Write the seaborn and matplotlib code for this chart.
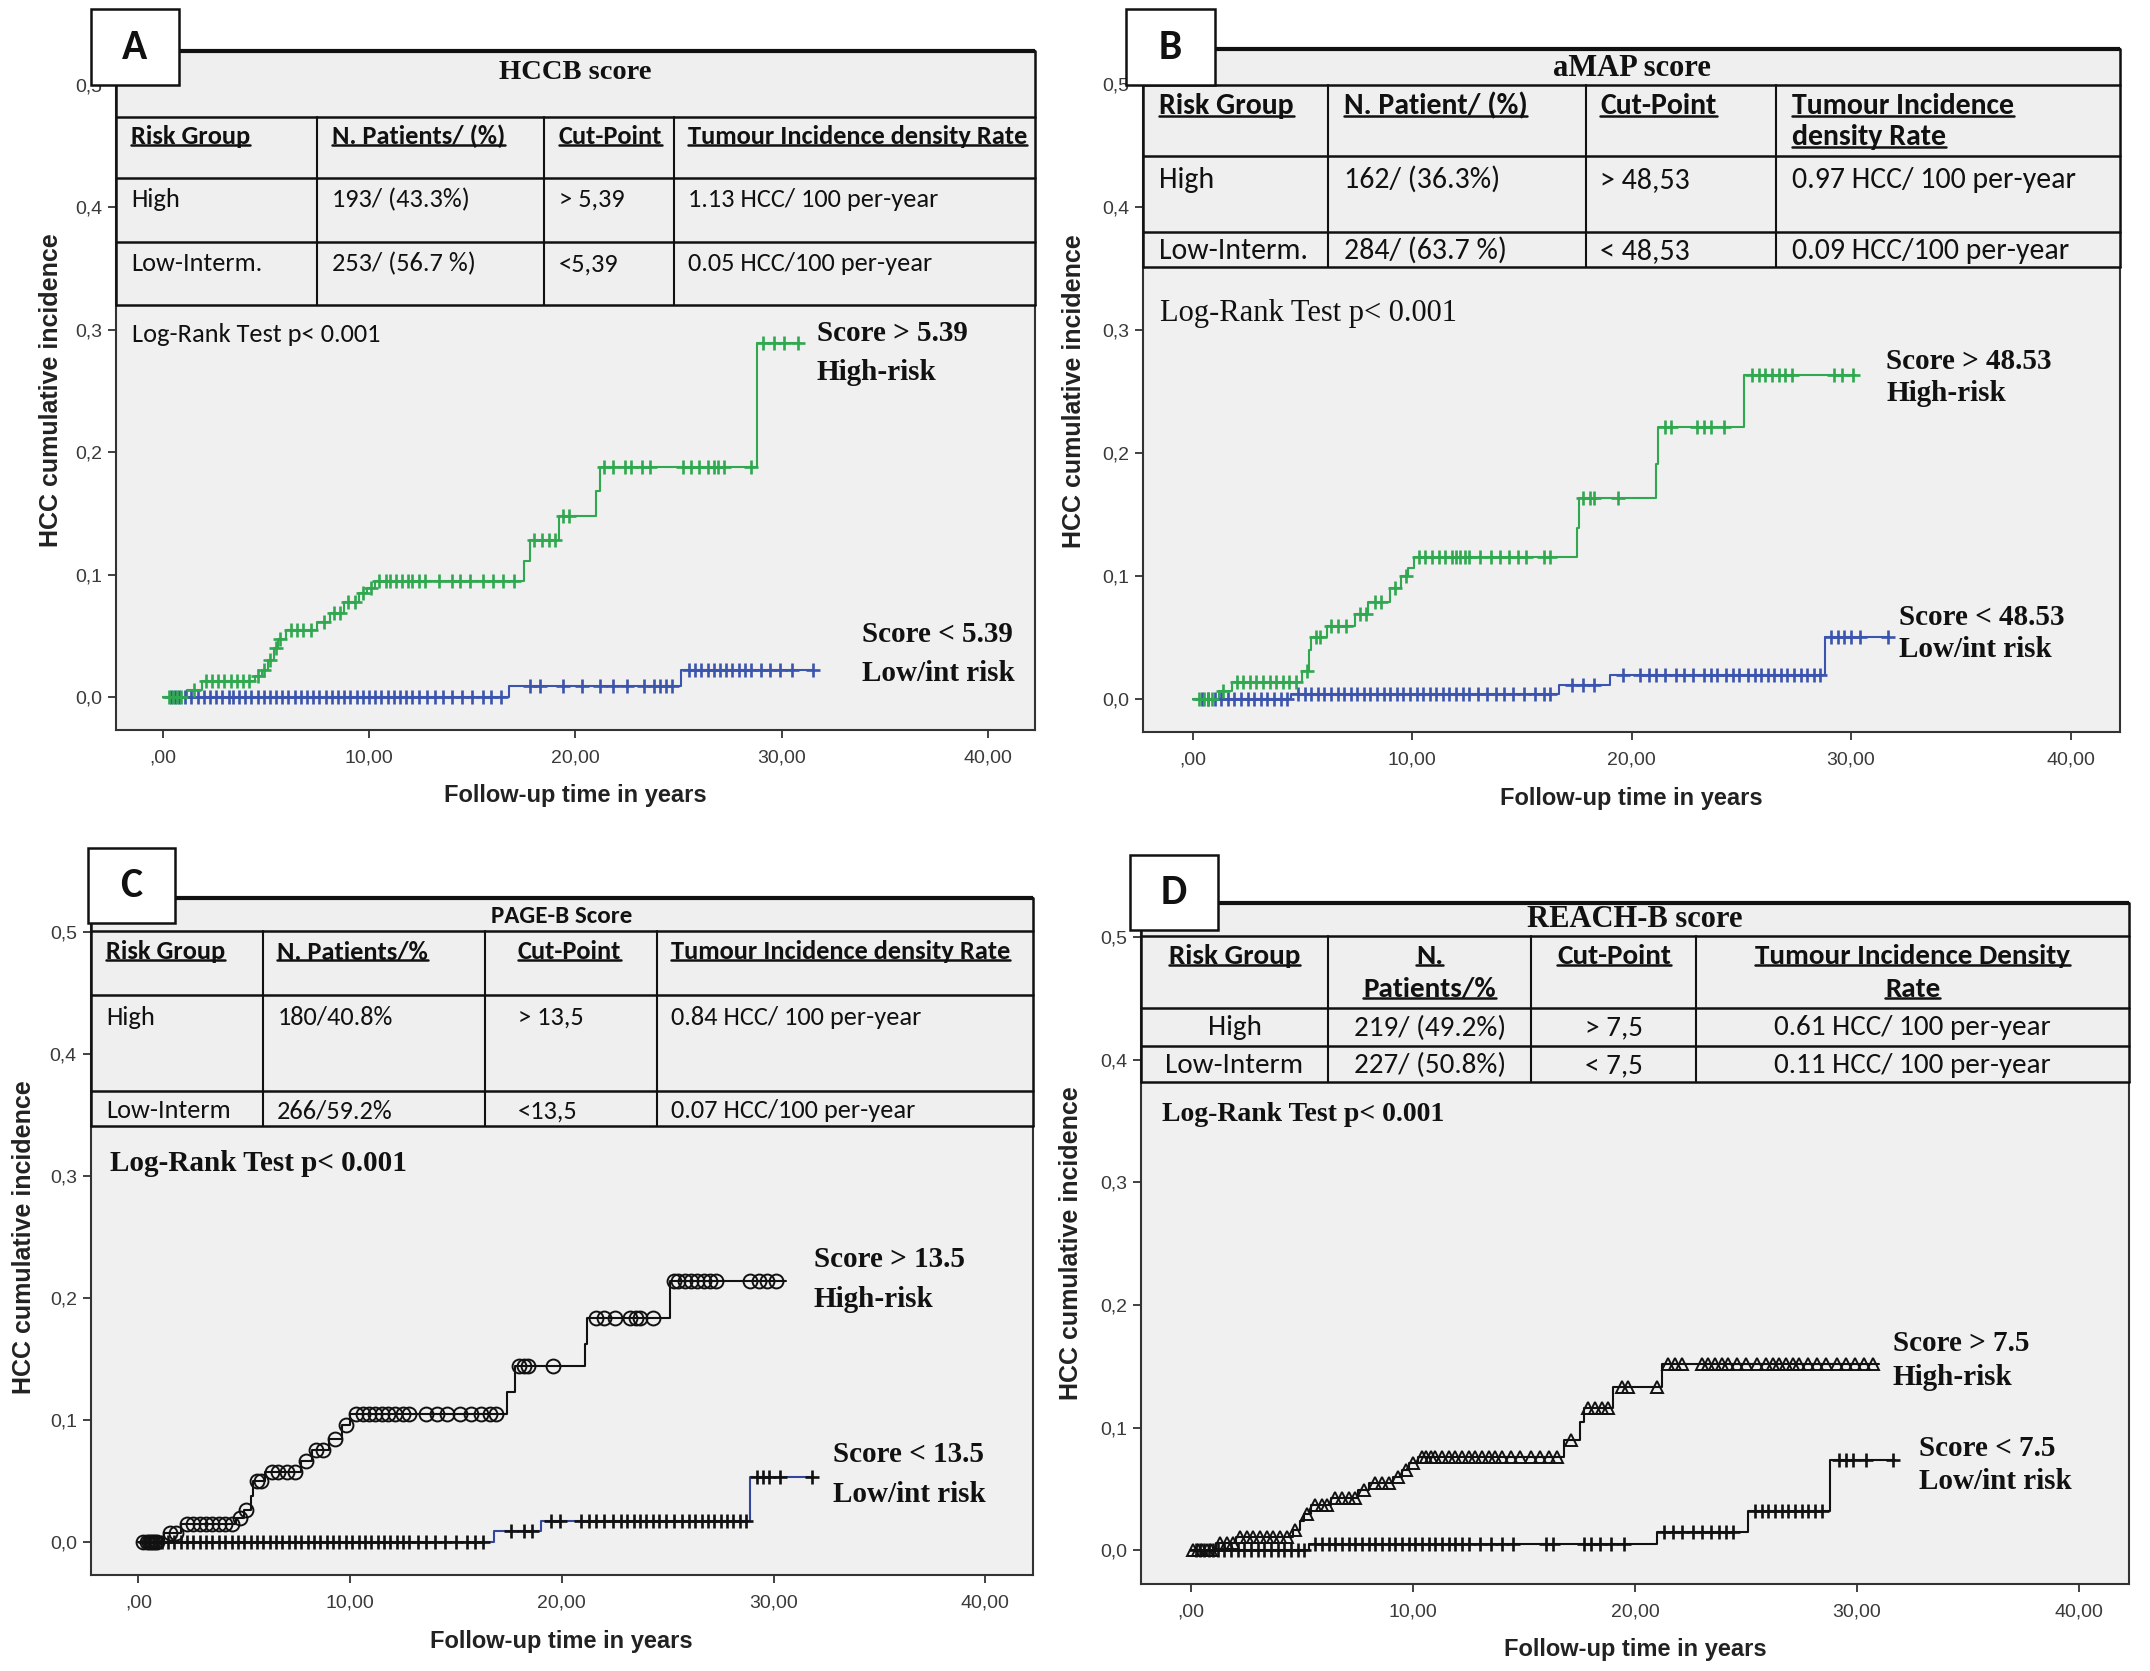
import numpy as np
import pandas as pd
import matplotlib
matplotlib.use("Agg")
import matplotlib.pyplot as plt
from matplotlib.patches import Rectangle
import seaborn as sns

sns.set_theme(style="white")
plt.rcParams['font.family'] = ['Liberation Sans', 'DejaVu Sans']

SANS_C = ['Carlito', 'Lato', 'DejaVu Sans']
NARROW = ['Liberation Sans Narrow', 'Liberation Sans', 'DejaVu Sans']
SERIF = ['Liberation Serif', 'DejaVu Serif']

GREEN = '#2fa84f'
BLUE = '#3b54ad'
BLACK = '#111111'
PANEL_BG = '#f0f0f0'

# ---------------- data ----------------
X_TICKS = [0, 10, 20, 30, 40]
X_TICK_LABELS = [',00', '10,00', '20,00', '30,00', '40,00']
Y_TICKS = [0.0, 0.1, 0.2, 0.3, 0.4, 0.5]
Y_TICK_LABELS = ['0,0', '0,1', '0,2', '0,3', '0,4', '0,5']

# A: HCCB
hccb_title = "HCCB score"
hccb_header = ["Risk Group", "N. Patients/ (%)", "Cut-Point", "Tumour Incidence density Rate"]
hccb_rows = [["High", "193/ (43.3%)", "> 5,39", "1.13 HCC/ 100 per-year"],
             ["Low-Interm.", "253/ (56.7 %)", "<5,39", "0.05 HCC/100 per-year"]]
hccb_labels = [("Score > 5.39", "High-risk"), ("Score < 5.39", "Low/int risk")]
hccb_high_t = [0.0, 1.2, 1.9, 4.5, 4.8, 5.1, 5.4, 5.6, 6.0, 7.5, 8.1, 8.8, 9.5, 9.9, 10.3, 17.5, 17.8, 19.2, 21.0, 21.2, 28.8]
hccb_high_v = [0.0, 0.006, 0.013, 0.017, 0.022, 0.030, 0.040, 0.047, 0.055, 0.061, 0.069, 0.078, 0.085, 0.089, 0.095,
               0.111, 0.128, 0.148, 0.168, 0.188, 0.289]
hccb_high_end = 30.9
hccb_high_cens = [0.3, 0.5, 0.7, 0.9, 1.5, 2.1, 2.4, 2.7, 3.0, 3.3, 3.6, 3.9, 4.2, 4.6, 4.9, 5.2, 5.5, 5.7, 6.2, 6.5,
                  6.8, 7.2, 7.8, 8.3, 8.6, 9.0, 9.3, 9.7, 10.1, 10.5, 10.8, 11.0, 11.3, 11.6, 11.9, 12.1, 12.4, 12.7,
                  13.4, 14.0, 14.4, 14.9, 15.5, 16.0, 16.5, 17.0, 18.0, 18.4, 18.7, 19.0, 19.4, 19.7, 21.4, 21.8,
                  22.4, 22.7, 23.2, 23.6, 25.2, 25.6, 26.0, 26.4, 26.7, 26.9, 27.2, 28.5, 29.1, 29.6, 30.1, 30.8]
hccb_low_t = [0.0, 16.8, 25.1]
hccb_low_v = [0.0, 0.009, 0.022]
hccb_low_end = 31.5
hccb_low_cens = [0.4, 0.6, 0.8, 1.1, 1.4, 1.7, 2.0, 2.3, 2.6, 2.9, 3.2, 3.4, 3.7, 4.0, 4.3, 4.6, 4.9, 5.2, 5.5, 5.8,
                 6.1, 6.4, 6.7, 7.0, 7.3, 7.6, 7.9, 8.2, 8.5, 8.8, 9.1, 9.4, 9.7, 10.0, 10.3, 10.6, 10.9, 11.2, 11.5,
                 11.8, 12.1, 12.4, 12.8, 13.2, 13.6, 14.0, 14.5, 15.0, 15.5, 15.9, 16.4, 17.8, 18.3, 19.4, 20.3,
                 21.2, 21.8, 22.5, 23.3, 23.8, 24.1, 24.4, 24.7, 25.5, 25.8, 26.1, 26.4, 26.7, 27.0, 27.3, 27.6,
                 27.9, 28.2, 28.5, 29.0, 29.4, 29.9, 30.5, 31.5]

# B: aMAP
amap_title = "aMAP score"
amap_header = ["Risk Group", "N. Patient/ (%)", "Cut-Point", "Tumour Incidence\ndensity Rate"]
amap_rows = [["High", "162/ (36.3%)", "> 48,53", "0.97 HCC/ 100 per-year"],
             ["Low-Interm.", "284/ (63.7 %)", "< 48,53", "0.09 HCC/100 per-year"]]
amap_labels = [("Score > 48.53", "High-risk"), ("Score < 48.53", "Low/int risk")]
amap_high_t = [0.0, 1.2, 1.8, 5.0, 5.3, 5.4, 6.1, 7.4, 8.0, 9.0, 9.5, 9.8, 10.1, 17.5, 17.6, 21.1, 21.2, 25.1]
amap_high_v = [0.0, 0.006, 0.014, 0.023, 0.040, 0.050, 0.059, 0.069, 0.079, 0.090, 0.100, 0.106, 0.115, 0.139,
               0.163, 0.191, 0.221, 0.263]
amap_high_end = 30.2
amap_high_cens = [0.3, 0.5, 0.7, 0.9, 1.4, 2.0, 2.3, 2.6, 2.9, 3.2, 3.5, 3.8, 4.1, 4.4, 4.7, 5.2, 5.6, 5.8, 6.3, 6.6,
                  7.0, 7.6, 7.9, 8.3, 8.6, 9.2, 9.7, 10.3, 10.6, 10.9, 11.2, 11.5, 11.8, 12.0, 12.2, 12.4, 12.6,
                  13.1, 13.6, 14.0, 14.4, 14.8, 15.2, 16.0, 16.3, 17.8, 18.1, 18.3, 19.4, 21.5, 21.8, 23.0, 23.3,
                  23.6, 24.2, 25.5, 25.8, 26.1, 26.4, 26.7, 27.0, 27.3, 29.2, 29.6, 30.1]
amap_low_t = [0.0, 4.5, 16.7, 19.0, 28.8]
amap_low_v = [0.0, 0.004, 0.011, 0.019, 0.050]
amap_low_end = 31.7
amap_low_cens = [0.4, 0.7, 1.0, 1.3, 1.6, 1.9, 2.2, 2.5, 2.8, 3.1, 3.4, 3.7, 4.0, 4.3, 4.8, 5.1, 5.4, 5.7, 6.0, 6.3,
                 6.6, 6.9, 7.2, 7.5, 7.8, 8.1, 8.4, 8.7, 9.0, 9.3, 9.6, 9.9, 10.2, 10.5, 10.8, 11.1, 11.4, 11.7,
                 12.0, 12.3, 12.6, 13.0, 13.4, 13.8, 14.2, 14.6, 15.1, 15.6, 16.0, 16.3, 17.3, 17.8, 18.3, 19.6,
                 20.4, 20.8, 21.1, 21.5, 22.0, 22.4, 22.8, 23.3, 23.6, 23.9, 24.3, 24.6, 24.9, 25.3, 25.6, 25.9,
                 26.2, 26.5, 26.8, 27.1, 27.4, 27.7, 28.0, 28.3, 28.6, 29.1, 29.4, 29.7, 30.0, 30.4, 31.7]

# C: PAGE-B
pageb_title = "PAGE-B Score"
pageb_header = ["Risk Group", "N. Patients/%", "Cut-Point", "Tumour Incidence density Rate"]
pageb_rows = [["High", "180/40.8%", "> 13,5", "0.84 HCC/ 100 per-year"],
              ["Low-Interm", "266/59.2%", "<13,5", "0.07 HCC/100 per-year"]]
pageb_labels = [("Score > 13.5", "High-risk"), ("Score < 13.5", "Low/int risk")]
pageb_high_t = [0.0, 1.2, 2.0, 4.6, 5.0, 5.3, 5.4, 6.0, 7.7, 8.2, 9.0, 9.6, 10.0, 17.4, 17.8, 21.1, 21.2, 25.1]
pageb_high_v = [0.0, 0.008, 0.015, 0.020, 0.027, 0.038, 0.050, 0.058, 0.067, 0.076, 0.085, 0.096, 0.105, 0.123,
                0.145, 0.163, 0.184, 0.214]
pageb_high_end = 30.6
pageb_high_cens = [0.2, 0.4, 0.5, 0.6, 0.7, 0.8, 0.9, 1.5, 1.8, 2.3, 2.6, 2.9, 3.2, 3.5, 3.8, 4.1, 4.4, 4.8, 5.1,
                   5.6, 5.8, 6.3, 6.6, 7.0, 7.4, 7.9, 8.4, 8.7, 9.3, 9.8, 10.3, 10.6, 10.9, 11.2, 11.5, 11.8, 12.1,
                   12.5, 12.8, 13.6, 14.1, 14.6, 15.2, 15.7, 16.2, 16.6, 16.9, 18.0, 18.2, 18.4, 19.6, 21.6, 22.0,
                   22.5, 23.2, 23.5, 23.7, 24.3, 25.3, 25.5, 25.8, 26.1, 26.4, 26.7, 27.0, 27.3, 28.9, 29.3, 29.7,
                   30.1]
pageb_low_t = [0.0, 16.8, 19.0, 28.9]
pageb_low_v = [0.0, 0.009, 0.018, 0.054]
pageb_low_end = 31.8
pageb_low_cens = [0.3, 0.5, 0.7, 0.9, 1.1, 1.4, 1.7, 2.0, 2.3, 2.6, 2.9, 3.2, 3.5, 3.8, 4.1, 4.4, 4.7, 5.0, 5.3,
                  5.6, 5.9, 6.2, 6.5, 6.8, 7.1, 7.4, 7.7, 8.0, 8.3, 8.6, 8.9, 9.2, 9.5, 9.8, 10.1, 10.4, 10.7, 11.0,
                  11.3, 11.6, 11.9, 12.2, 12.5, 12.8, 13.2, 13.6, 14.0, 14.5, 15.0, 15.5, 15.9, 16.3, 17.6, 18.2,
                  18.6, 19.5, 19.9, 20.9, 21.3, 21.6, 22.0, 22.4, 22.8, 23.1, 23.4, 23.7, 24.0, 24.3, 24.6, 24.9,
                  25.3, 25.7, 26.0, 26.3, 26.6, 26.9, 27.2, 27.5, 27.8, 28.1, 28.4, 28.7, 29.2, 29.5, 29.8, 30.3,
                  31.8]

# D: REACH-B
reachb_title = "REACH-B score"
reachb_header = ["Risk Group", "N.\nPatients/%", "Cut-Point", "Tumour Incidence Density\nRate"]
reachb_rows = [["High", "219/ (49.2%)", "> 7,5", "0.61 HCC/ 100 per-year"],
               ["Low-Interm", "227/ (50.8%)", "< 7,5", "0.11 HCC/ 100 per-year"]]
reachb_labels = [("Score > 7.5", "High-risk"), ("Score < 7.5", "Low/int risk")]
reachb_high_t = [0.0, 1.1, 2.0, 4.6, 4.9, 5.1, 5.4, 6.3, 7.5, 8.0, 9.1, 9.5, 9.8, 10.2, 16.8, 17.5, 17.7, 19.0, 21.2]
reachb_high_v = [0.0, 0.006, 0.011, 0.017, 0.024, 0.030, 0.037, 0.043, 0.049, 0.055, 0.060, 0.066, 0.071, 0.076,
                 0.090, 0.105, 0.116, 0.133, 0.152]
reachb_high_end = 31.0
reachb_high_cens = [0.1, 0.3, 0.5, 0.7, 0.9, 1.3, 1.6, 1.9, 2.2, 2.5, 2.8, 3.1, 3.4, 3.7, 4.0, 4.3, 4.7, 5.2, 5.6,
                    5.9, 6.1, 6.5, 6.8, 7.1, 7.4, 7.8, 8.3, 8.6, 8.9, 9.3, 9.7, 10.0, 10.4, 10.6, 10.8, 11.0, 11.3,
                    11.6, 11.9, 12.2, 12.5, 12.8, 13.1, 13.4, 13.7, 14.0, 14.4, 14.8, 15.3, 15.7, 16.1, 16.5, 17.1,
                    17.9, 18.2, 18.5, 18.8, 19.4, 19.7, 21.0, 21.5, 21.8, 22.1, 23.0, 23.3, 23.6, 23.9, 24.2, 24.6,
                    25.0, 25.5, 25.9, 26.2, 26.5, 26.8, 27.1, 27.4, 27.8, 28.2, 28.6, 29.1, 29.5, 29.9, 30.3, 30.7]
reachb_low_t = [0.0, 5.3, 21.0, 25.1, 28.8]
reachb_low_v = [0.0, 0.005, 0.015, 0.032, 0.074]
reachb_low_end = 31.7
reachb_low_cens = [0.2, 0.4, 0.6, 0.8, 1.0, 1.2, 1.5, 1.8, 2.1, 2.4, 2.7, 3.0, 3.3, 3.6, 3.9, 4.2, 4.5, 4.8, 5.1,
                   5.6, 5.9, 6.2, 6.5, 6.8, 7.1, 7.4, 7.7, 8.0, 8.3, 8.6, 8.9, 9.2, 9.5, 9.8, 10.1, 10.4, 10.7, 11.0,
                   11.3, 11.6, 11.9, 12.2, 12.5, 13.0, 13.5, 14.0, 14.5, 16.0, 16.3, 17.7, 18.0, 18.4, 18.9, 19.5,
                   21.3, 21.7, 22.1, 22.6, 23.0, 23.4, 23.8, 24.1, 24.4, 25.4, 25.7, 26.0, 26.3, 26.6, 26.9, 27.2,
                   27.5, 27.8, 28.1, 28.4, 29.2, 29.5, 29.8, 30.4, 31.6]

LOGRANK = "Log-Rank Test p< 0.001"
PANEL_LETTERS = ["A", "B", "C", "D"]


def step_frame(times, values, end):
    return pd.DataFrame({'time': list(times) + [end], 'cuminc': list(values) + [values[-1]]})


def censor_frame(times, values, cens):
    idx = np.searchsorted(times, cens, side='right') - 1
    return pd.DataFrame({'time': cens, 'cuminc': np.asarray(values)[idx]})


def draw_group(ax, times, values, end, cens, line_color, mark_color, marker, msize, mew, open_marker=False):
    sns.lineplot(data=step_frame(times, values, end), x='time', y='cuminc', drawstyle='steps-post',
                 estimator=None, sort=False, color=line_color, linewidth=1.5, ax=ax, zorder=3)
    face = 'none' if open_marker else mark_color
    sns.lineplot(data=censor_frame(times, values, cens), x='time', y='cuminc', estimator=None, sort=False,
                 linestyle='', marker=marker, markersize=msize, markerfacecolor=face,
                 markeredgecolor=mark_color, markeredgewidth=mew, color=mark_color, ax=ax, zorder=4)


underlines = []


def draw_table(ax, title, header, rows, lay):
    tr = ax.transAxes
    cx, ry = lay['cols'], lay['rows']
    ax.add_patch(Rectangle((0, ry[-1]), 1, 1 - ry[-1], transform=tr, facecolor='#efefef',
                           edgecolor='none', zorder=5))
    ax.plot([0, 1], [ry[0], ry[0]], transform=tr, color=BLACK, lw=3.0, zorder=6, clip_on=False,
            solid_capstyle='butt')
    for y in ry[1:]:
        ax.plot([0, 1], [y, y], transform=tr, color=BLACK, lw=1.8, zorder=6, clip_on=False)
    for x in cx[1:-1]:
        ax.plot([x, x], [ry[1], ry[-1]], transform=tr, color=BLACK, lw=1.5, zorder=6)
    for x in (0, 1):
        ax.plot([x, x], [ry[0], ry[-1]], transform=tr, color=BLACK, lw=1.8, zorder=6, clip_on=False)

    ax.text(0.5, lay['title_y'], title, transform=tr, ha='center', va='center', zorder=7,
            fontsize=lay['title_size'], fontweight='bold', family=lay['title_font'], color=BLACK)

    def cell_x(j):
        if lay['align'] == 'center':
            return (cx[j] + cx[j + 1]) / 2, 'center'
        return cx[j] + lay['pads'][j], 'left'

    for j, h in enumerate(header):
        x, ha = cell_x(j)
        for k, line in enumerate(h.split('\n')):
            t = ax.text(x, lay['head_y'][k], line, transform=tr, ha=ha, va='center', zorder=7,
                        fontsize=lay['size'], fontweight='bold', family=SANS_C, color=BLACK)
            underlines.append((ax, t))
    for i, row in enumerate(rows):
        for j, val in enumerate(row):
            x, ha = cell_x(j)
            ax.text(x, lay['row_y'][i], val, transform=tr, ha=ha, va='center', zorder=7,
                    fontsize=lay['size'], family=SANS_C, color=BLACK)


panels = [
    dict(rect=[0.0540, 0.5631, 0.4273, 0.4066], box=[0.0422, 0.9490, 0.0411, 0.0454],
         title=hccb_title, header=hccb_header, rows=hccb_rows, labels=hccb_labels,
         high=(hccb_high_t, hccb_high_v, hccb_high_end, hccb_high_cens),
         low=(hccb_low_t, hccb_low_v, hccb_low_end, hccb_low_cens),
         style=dict(hl=GREEN, hm=GREEN, hmark='+', hs=10, hopen=False, ll=BLUE, lm=BLUE, lmark='+', ls=10),
         lay=dict(cols=[0, 0.219, 0.466, 0.607, 1], rows=[1.0, 0.903, 0.812, 0.718, 0.625],
                  title_y=0.968, head_y=[0.874], row_y=[0.781, 0.686], align='left',
                  pads=[0.016, 0.016, 0.016, 0.015], size=19, title_size=20.5, title_font=SERIF),
         logrank=dict(x=0.017, y=0.296, font=SANS_C, weight='normal', size=19),
         lab_pos=[(31.7, 0.297, 0.265), (33.9, 0.051, 0.019)]),
    dict(rect=[0.5318, 0.5619, 0.4542, 0.4086], box=[0.5238, 0.9490, 0.0413, 0.0454],
         title=amap_title, header=amap_header, rows=amap_rows, labels=amap_labels,
         high=(amap_high_t, amap_high_v, amap_high_end, amap_high_cens),
         low=(amap_low_t, amap_low_v, amap_low_end, amap_low_cens),
         style=dict(hl=GREEN, hm=GREEN, hmark='+', hs=10, hopen=False, ll=BLUE, lm=BLUE, lmark='+', ls=10),
         lay=dict(cols=[0, 0.189, 0.453, 0.648, 1], rows=[1.0, 0.948, 0.843, 0.733, 0.681],
                  title_y=0.972, head_y=[0.917, 0.871], row_y=[0.809, 0.705], align='left',
                  pads=[0.016, 0.016, 0.015, 0.016], size=21.5, title_size=22, title_font=SERIF),
         logrank=dict(x=0.017, y=0.313, font=SERIF, weight='normal', size=22),
         lab_pos=[(31.6, 0.274, 0.248), (32.2, 0.066, 0.040)]),
    dict(rect=[0.0422, 0.0572, 0.4382, 0.4052], box=[0.0407, 0.4475, 0.0409, 0.0448],
         title=pageb_title, header=pageb_header, rows=pageb_rows, labels=pageb_labels,
         high=(pageb_high_t, pageb_high_v, pageb_high_end, pageb_high_cens),
         low=(pageb_low_t, pageb_low_v, pageb_low_end, pageb_low_cens),
         style=dict(hl=BLACK, hm=BLACK, hmark='o', hs=10, hopen=True, ll='#34479a', lm=BLACK, lmark='+', ls=10),
         lay=dict(cols=[0, 0.183, 0.419, 0.601, 1], rows=[1.0, 0.952, 0.857, 0.715, 0.664],
                  title_y=0.973, head_y=[0.921], row_y=[0.824, 0.686], align='left',
                  pads=[0.016, 0.015, 0.034, 0.015], size=19, title_size=18, title_font=SANS_C),
         logrank=dict(x=0.02, y=0.311, font=SERIF, weight='bold', size=21),
         lab_pos=[(31.9, 0.232, 0.199), (32.8, 0.072, 0.039)]),
    dict(rect=[0.5308, 0.0523, 0.4594, 0.4075], box=[0.5254, 0.4435, 0.0413, 0.0448],
         title=reachb_title, header=reachb_header, rows=reachb_rows, labels=reachb_labels,
         high=(reachb_high_t, reachb_high_v, reachb_high_end, reachb_high_cens),
         low=(reachb_low_t, reachb_low_v, reachb_low_end, reachb_low_cens),
         style=dict(hl=BLACK, hm=BLACK, hmark='^', hs=9, hopen=True, ll=BLACK, lm=BLACK, lmark='+', ls=10),
         lay=dict(cols=[0, 0.189, 0.395, 0.562, 1], rows=[1.0, 0.951, 0.845, 0.789, 0.736],
                  title_y=0.975, head_y=[0.922, 0.873], row_y=[0.816, 0.761], align='center',
                  pads=None, size=21, title_size=22, title_font=SERIF),
         logrank=dict(x=0.021, y=0.355, font=SERIF, weight='bold', size=20),
         lab_pos=[(31.6, 0.169, 0.141), (32.8, 0.083, 0.056)]),
]

fig = plt.figure(figsize=(21.5, 16.71), dpi=100)
fig.patch.set_facecolor('white')

for letter, p in zip(PANEL_LETTERS, panels):
    ax = fig.add_axes(p['rect'])
    ax.set_facecolor(PANEL_BG)
    st = p['style']
    draw_group(ax, *p['low'], st['ll'], st['lm'], st['lmark'], st['ls'], 1.9)
    draw_group(ax, *p['high'], st['hl'], st['hm'], st['hmark'], st['hs'],
               1.4 if st['hopen'] else 1.9, open_marker=st['hopen'])

    ax.set_xlim(-2.25, 42.25)
    ax.set_ylim(-0.027, 0.528)
    ax.set_xticks(X_TICKS)
    ax.set_xticklabels(X_TICK_LABELS)
    ax.set_yticks(Y_TICKS)
    ax.set_yticklabels(Y_TICK_LABELS)
    ax.tick_params(axis='both', direction='out', length=6, width=1.3, colors='#333333',
                   labelsize=14, left=True, bottom=True)
    ax.tick_params(axis='x', pad=8)
    ax.tick_params(axis='y', pad=4)
    for lab in ax.get_xticklabels() + ax.get_yticklabels():
        lab.set_family(NARROW)
        lab.set_color('#3a3a3a')
    for sp in ax.spines.values():
        sp.set_color('#333333')
        sp.set_linewidth(1.5)
        sp.set_visible(True)

    ax.set_xlabel("Follow-up time in years", fontsize=17, fontweight='bold', color='#222222')
    ax.set_ylabel("HCC cumulative incidence", fontsize=18, fontweight='bold', color='#222222')
    ax.xaxis.set_label_coords(0.5, -0.097)
    ax.xaxis.label.set_va('center')
    ax.yaxis.set_label_coords(-0.071, 0.5)
    ax.yaxis.label.set_va('center')

    draw_table(ax, p['title'], p['header'], p['rows'], p['lay'])

    lr = p['logrank']
    ax.text(lr['x'], lr['y'], LOGRANK, transform=ax.get_yaxis_transform(), ha='left', va='center',
            fontsize=lr['size'], fontweight=lr['weight'], family=lr['font'], color=BLACK, zorder=7)

    for (l1, l2), (tx, y1, y2) in zip(p['labels'], p['lab_pos']):
        ax.text(tx, y1, l1, ha='left', va='center', fontsize=21, fontweight='bold', family=SERIF,
                color=BLACK, zorder=7)
        ax.text(tx, y2, l2, ha='left', va='center', fontsize=21, fontweight='bold', family=SERIF,
                color=BLACK, zorder=7)

    bx, by, bw, bh = p['box']
    fig.add_artist(Rectangle((bx, by), bw, bh, transform=fig.transFigure, facecolor='white',
                             edgecolor='#111111', lw=1.8, zorder=20))
    fig.text(bx + bw / 2, by + bh / 2, letter, ha='center', va='center', fontsize=30,
             fontweight='bold', family=SANS_C, color=BLACK, zorder=21)

# underline the header texts
fig.canvas.draw()
renderer = fig.canvas.get_renderer()
for ax, t in underlines:
    bb = t.get_window_extent(renderer)
    inv = ax.transAxes.inverted()
    (x0, y0), (x1, y1) = inv.transform([[bb.x0, bb.y0], [bb.x1, bb.y1]])
    yl = y0 + 0.13 * (y1 - y0)
    ax.plot([x0, x1], [yl, yl], transform=ax.transAxes, color=BLACK, lw=1.8, zorder=8, clip_on=False)

fig.savefig('out.png', dpi=100, facecolor='white')
